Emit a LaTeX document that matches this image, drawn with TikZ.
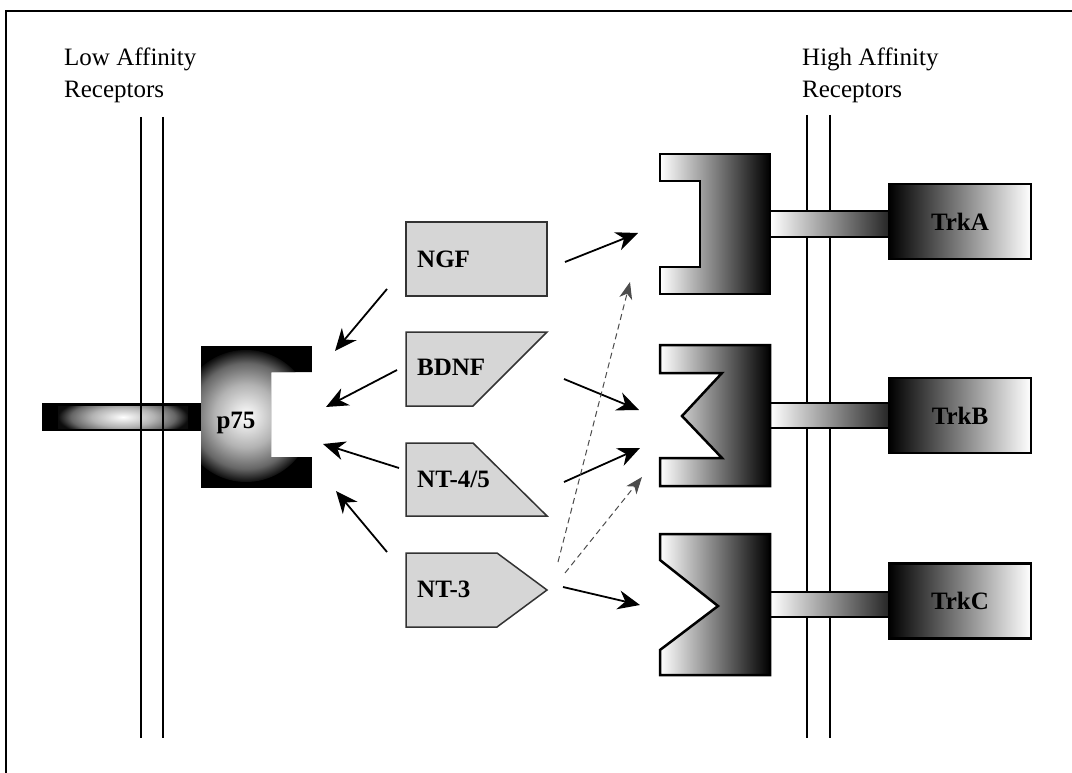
\documentclass[tikz,border=0pt]{standalone}
\usepackage{fontspec}
\setmainfont{Liberation Serif}
\usetikzlibrary{arrows.meta}

\definecolor{ligfill}{RGB}{214,214,214}
\newcommand{\bigtext}{\fontsize{25}{32}\selectfont}
\pgfdeclareradialshading{sphere}{\pgfpoint{0bp}{0bp}}{color(0bp)=(white); color(12bp)=(black!30); color(20bp)=(black!60); color(25bp)=(black!95); color(50bp)=(black)}

\tikzset{
  ligand/.style={draw=black!80, line width=1.5pt, fill=ligfill},
  ligtext/.style={font=\bigtext\bfseries, anchor=base west, inner sep=0pt},
  extra/.style={draw=black, line width=2.5pt, left color=white, right color=black},
  stalk/.style={draw=black, line width=2pt, left color=white, right color=black!85},
  kinase/.style={draw=black, line width=2.5pt, left color=black, right color=white,
    minimum width=142pt, minimum height=75pt, font=\bigtext\bfseries, inner sep=0pt},
  bind/.style={-{Stealth[length=22pt,width=19pt,inset=7pt]}, line width=1.8pt},
  cross/.style={-{Stealth[length=17pt,width=13pt,inset=5pt]}, dash pattern=on 6pt off 4pt,
    black!70, line width=1pt},
  memb/.style={line width=2pt}
}

\begin{document}
\begin{tikzpicture}[x=1pt, y=-1pt, line join=miter, font=\bigtext]
  \useasboundingbox (0,0) rectangle (1072,773);
  \draw[line width=2pt] (1072,11) -- (6,11) -- (6,773);

  \node[anchor=north west, align=left, inner sep=0pt] (lowlbl) at (64,48) {Low Affinity\\Receptors};
  \node[anchor=north west, align=left, inner sep=0pt] (highlbl) at (802,48) {High Affinity\\Receptors};

  % p75 receptor
  \fill[black] (42,403) rectangle (201,431);
  \begin{scope}
    \clip (47,406) rectangle (199,428);
    \shade[shading=sphere] (58,396) rectangle (188,438);
  \end{scope}
  \begin{scope}
    \clip (201,346) -- (312,346) -- (312,372) -- (271,372) -- (271,457) -- (312,457) -- (312,488) -- (201,488) -- cycle;
    \fill[black] (201,346) rectangle (312,488);
    \shade[shading=sphere] (246,416) circle (66);
  \end{scope}
  \node[font=\bigtext\bfseries, anchor=base, inner sep=0pt] (p75) at (236,428) {p75};
  \draw[memb] (141,117) -- (141,738) (163,117) -- (163,738);

  % ligands
  \draw[ligand] (406,222) rectangle (547,296);
  \draw[ligand] (406,332) -- (547,332) -- (473,406) -- (406,406) -- cycle;
  \draw[ligand] (406,443) -- (473,443) -- (547,516) -- (406,516) -- cycle;
  \draw[ligand] (406,553) -- (497,553) -- (547,590) -- (497,627) -- (406,627) -- cycle;
  \node[ligtext] (ngf) at (417,267) {NGF};
  \node[ligtext] (bdnf) at (417,375) {BDNF};
  \node[ligtext] (nt45) at (417,487) {NT-4/5};
  \node[ligtext] (nt3) at (417,597) {NT-3};

  % Trk receptors
  \draw[memb] (807,115) -- (807,738) (830,115) -- (830,738);
  \draw[stalk] (770,211) rectangle (889,237);
  \draw[stalk] (770,403) rectangle (889,428);
  \draw[stalk] (770,592) rectangle (889,617);
  \draw[extra] (660,154) -- (770,154) -- (770,294) -- (660,294) -- (660,267) -- (700,267) -- (700,181) -- (660,181) -- cycle;
  \draw[extra] (660,345) -- (770,345) -- (770,486) -- (660,486) -- (660,458) -- (722,458) -- (682,416) -- (722,373) -- (660,373) -- cycle;
  \draw[extra] (660,534) -- (770,534) -- (770,675) -- (660,675) -- (660,650) -- (718,606) -- (660,560) -- cycle;
  \node[kinase] (trka) at (960,221.5) {TrkA};
  \node[kinase] (trkb) at (960,415.5) {TrkB};
  \node[kinase] (trkc) at (960,601) {TrkC};

  % arrow ends
  \coordinate (ngfR) at (565,262);   \coordinate (ngfL) at (387,289);
  \coordinate (bdnfR) at (564,379);  \coordinate (bdnfL) at (397,370);
  \coordinate (ntfR) at (564,482);   \coordinate (ntfL) at (399,468);
  \coordinate (ntthR) at (563,587);  \coordinate (ntthL) at (387,552);
  \coordinate (ntthA) at (558,562);  \coordinate (ntthB) at (565,573);
  \coordinate (trkaIn) at (638,233); \coordinate (trkaX) at (630,282);
  \coordinate (trkbIn) at (639,410); \coordinate (trkbIn2) at (640,448);
  \coordinate (trkbX) at (642,477);  \coordinate (trkcIn) at (640,605);
  \coordinate (p75a) at (335,351);   \coordinate (p75b) at (326,407);
  \coordinate (p75c) at (323,444);   \coordinate (p75d) at (336,491);

  \draw[bind] (ngfR) -- (trkaIn);
  \draw[bind] (bdnfR) -- (trkbIn);
  \draw[bind] (ntfR) -- (trkbIn2);
  \draw[bind] (ntthR) -- (trkcIn);
  \draw[bind] (ngfL) -- (p75a);
  \draw[bind] (bdnfL) -- (p75b);
  \draw[bind] (ntfL) -- (p75c);
  \draw[bind] (ntthL) -- (p75d);
  \draw[cross] (ntthA) -- (trkaX);
  \draw[cross] (ntthB) -- (trkbX);
\end{tikzpicture}
\end{document}
